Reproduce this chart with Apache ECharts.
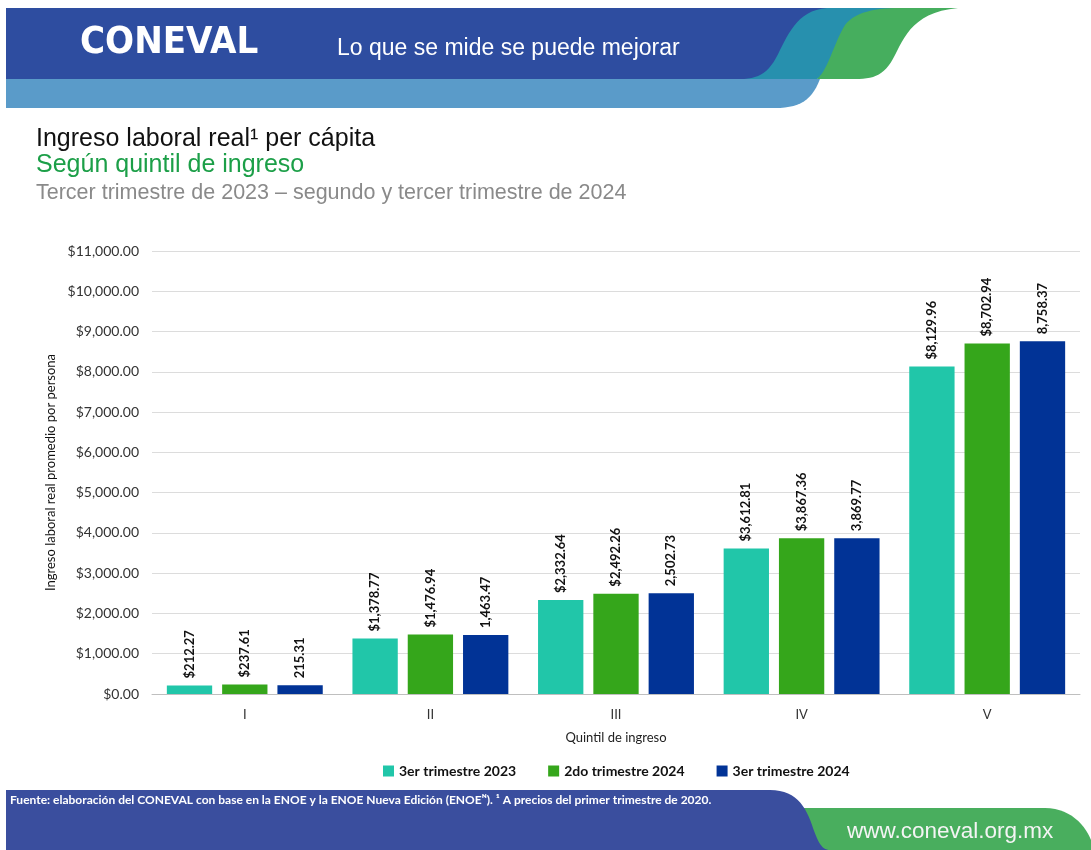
<!DOCTYPE html>
<html>
<head>
<meta charset="utf-8">
<script src="https://cdn.jsdelivr.net/npm/echarts@6/dist/echarts.min.js"></script>
<style>
  html, body { margin: 0; padding: 0; background: #fff; }
  #chart { width: 1091px; height: 850px; }
</style>
</head>
<body>
<div id="chart"></div>
<script>
const quintiles = ['I', 'II', 'III', 'IV', 'V']
const seriesNames = ['3er trimestre 2023', '2do trimestre 2024', '3er trimestre 2024']
const t3_2023 = [212.27, 1378.77, 2332.64, 3612.81, 8129.96]
const t2_2024 = [237.61, 1476.94, 2492.26, 3867.36, 8702.94]
const t3_2024 = [215.31, 1463.47, 2502.73, 3869.77, 8758.37]
const labelPrefix = ['$', '$', '']
const colors = ['#21C6A9', '#35A61B', '#013396']

const chart = echarts.init(document.getElementById('chart'))

const money = (v, prefix) => prefix + v.toLocaleString('en-US', { minimumFractionDigits: 2, maximumFractionDigits: 2 })

// decorative shapes: list of points, 'C' entries are cubic curves [c1, c2, end]
const shapePoints = (cmds) => {
  const pts = []
  let last = null
  cmds.forEach(c => {
    if (c[0] === 'C') {
      const p0 = last, p1 = c[1], p2 = c[2], p3 = c[3]
      for (let i = 1; i <= 14; i++) {
        const t = i / 14, u = 1 - t
        pts.push([
          u * u * u * p0[0] + 3 * u * u * t * p1[0] + 3 * u * t * t * p2[0] + t * t * t * p3[0],
          u * u * u * p0[1] + 3 * u * u * t * p1[1] + 3 * u * t * t * p2[1] + t * t * t * p3[1]
        ])
      }
      last = p3
    } else {
      pts.push(c)
      last = c
    }
  })
  return pts
}
const deco = (cmds, fill) => ({ type: 'polygon', shape: { points: shapePoints(cmds) }, style: { fill: fill } })

const makeSeries = (name, data, idx) => ({
  name: name,
  type: 'bar',
  data: data,
  barGap: '22%',
  barCategoryGap: '16%',
  itemStyle: { color: colors[idx] },
  label: {
    show: true,
    position: 'top',
    rotate: 90,
    align: 'left',
    verticalAlign: 'middle',
    distance: 7,
    color: '#111',
    fontFamily: 'Lato',
    fontWeight: 'bold',
    fontSize: 13,
    formatter: p => money(p.value, labelPrefix[idx])
  }
})

const option = {
  backgroundColor: '#fff',
  animation: false,
  graphic: [
    // header bands
    deco([[6, 79], [820, 79], ['C', [812, 100], [800, 108], [775, 108]], [6, 108]], '#5A9BC9'),
    deco([[760, 8], [900, 8], ['C', [865, 12], [845, 45], [835, 62]], ['C', [828, 75], [822, 79], [815, 79]], [740, 79]], '#2790AE'),
    deco([[6, 8], [827, 8], ['C', [800, 10], [790, 30], [780, 50]], ['C', [770, 72], [760, 79], [740, 79]], [6, 79]], '#2E4DA0'),
    deco([[900, 8], [958, 8], ['C', [915, 12], [905, 35], [895, 55]], ['C', [885, 75], [875, 79], [855, 79]], [817, 79],
      ['C', [828, 70], [833, 45], [845, 25]], ['C', [855, 12], [875, 8], [900, 8]]], '#46AE5E'),
    { type: 'text', left: 80, top: 24, style: { text: 'CONEVAL', fill: '#fff', font: 'bold 38px "DejaVu Sans Condensed"' } },
    { type: 'text', left: 337, top: 37, style: { text: 'Lo que se mide se puede mejorar', fill: '#fff', font: '23px "Liberation Sans"' } },
    // titles
    { type: 'text', left: 36, top: 127, style: { text: 'Ingreso laboral real¹ per cápita', fill: '#111', font: '25px "Liberation Sans"' } },
    { type: 'text', left: 36, top: 153, style: { text: 'Según quintil de ingreso', fill: '#1C9F48', font: '25px "Liberation Sans"' } },
    { type: 'text', left: 36, top: 182, style: { text: 'Tercer trimestre de 2023 – segundo y tercer trimestre de 2024', fill: '#8A8A8A', font: '21.5px "Liberation Sans"' } },
    // footer
    deco([[800, 808], [1045, 808], ['C', [1070, 808], [1085, 825], [1091, 840]], [1091, 850], [800, 850]], '#49AE5E'),
    deco([[6, 790], [770, 790], ['C', [795, 790], [805, 805], [812, 825]], ['C', [818, 843], [822, 850], [830, 850]], [6, 850]], '#3A4E9E'),
    { type: 'text', left: 10, top: 794, style: { text: 'Fuente: elaboración del CONEVAL con base en la ENOE y la ENOE Nueva Edición (ENOEᴺ). ¹ A precios del primer trimestre de 2020.', fill: '#fff', font: 'bold 12px Lato' } },
    { type: 'text', left: 847, top: 820, style: { text: 'www.coneval.org.mx', fill: '#F4F4F4', font: '22.5px "Liberation Sans"' } }
  ],
  legend: {
    data: seriesNames,
    top: 759,
    left: 378,
    icon: 'rect',
    itemWidth: 11,
    itemHeight: 11,
    itemGap: 32,
    textStyle: { color: '#111', fontFamily: 'Lato', fontWeight: 'bold', fontSize: 14 }
  },
  grid: {
    left: 152,
    right: 11,
    top: 251,
    bottom: 156
  },
  xAxis: {
    type: 'category',
    data: quintiles,
    name: 'Quintil de ingreso',
    nameLocation: 'middle',
    nameGap: 37,
    nameTextStyle: { color: '#222', fontFamily: 'Lato', fontSize: 13 },
    axisLine: { lineStyle: { color: '#BFBFBF' } },
    axisTick: { show: false },
    axisLabel: { color: '#333', fontFamily: 'Lato', fontSize: 13, margin: 14 }
  },
  yAxis: {
    type: 'value',
    min: 0,
    max: 11000,
    interval: 1000,
    name: 'Ingreso laboral real promedio por persona',
    nameLocation: 'middle',
    nameGap: 95,
    nameMoveOverlap: false,
    nameTextStyle: { color: '#111', fontFamily: 'Lato', fontSize: 13 },
    axisLine: { show: false },
    axisTick: { show: false },
    axisLabel: { color: '#333', fontFamily: 'Lato', fontSize: 14, margin: 13, formatter: v => money(v, '$') },
    splitLine: { lineStyle: { color: '#DCDCDC' } }
  },
  series: [
    makeSeries(seriesNames[0], t3_2023, 0),
    makeSeries(seriesNames[1], t2_2024, 1),
    makeSeries(seriesNames[2], t3_2024, 2)
  ]
}

chart.setOption(option)
</script>
</body>
</html>
